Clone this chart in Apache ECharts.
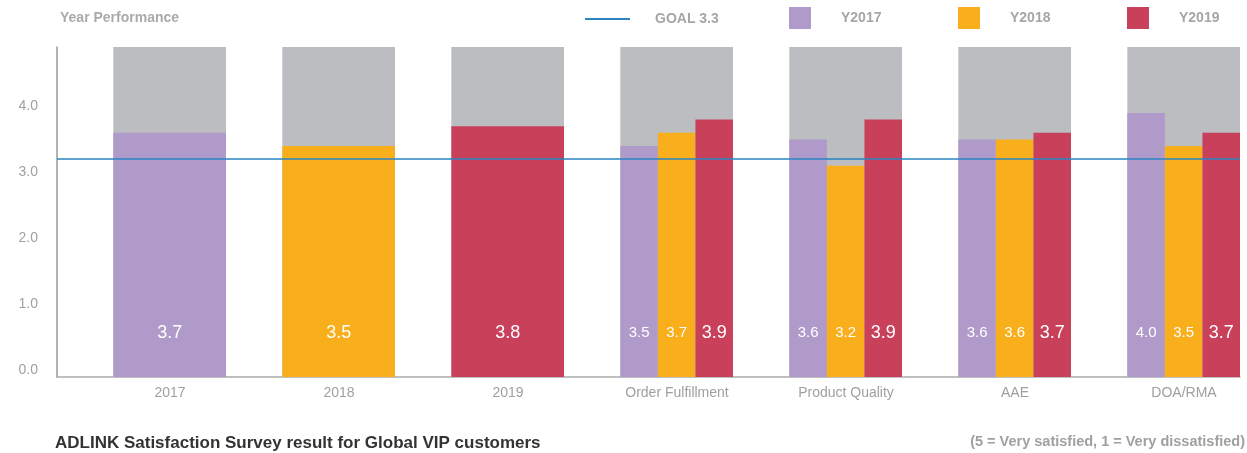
<!DOCTYPE html>
<html>
<head>
<meta charset="utf-8">
<script src="https://cdn.jsdelivr.net/npm/echarts@6/dist/echarts.min.js"></script>
<style>
  html, body { margin: 0; padding: 0; background: #fff; }
  #chart { width: 1247px; height: 453px; }
</style>
</head>
<body>
<div id="chart"></div>
<script>
// categories: three yearly totals, then the survey areas
var years = ['2017', '2018', '2019'];
var areas = ['Order Fulfillment', 'Product Quality', 'AAE', 'DOA/RMA'];
var categories = years.concat(areas);

// overall score per year
var yearScore = [3.7, 3.5, 3.8];
// score per area, one array per year
var y2017 = [3.5, 3.6, 3.6, 4.0];
var y2018 = [3.7, 3.2, 3.6, 3.5];
var y2019 = [3.9, 3.9, 3.7, 3.7];

var goal = 3.3;
var scaleMax = 5;

var seriesNames = ['Y2017', 'Y2018', 'Y2019'];
var colors = ['#b09ac9', '#f9ae1b', '#c8405a'];
var areaScores = [y2017, y2018, y2019];

var chart = echarts.init(document.getElementById('chart'));

// bar sits in the right two thirds of each band
function barBox(api, i) {
    var base = api.coord([i, 0]);
    var band = api.size([1, 0])[0];
    return { left: base[0] - band / 2 + band / 3, width: band * 2 / 3, bottom: base[1] };
}

function renderBackground(params, api) {
    var i = api.value(0);
    var b = barBox(api, i);
    var top = api.coord([i, api.value(1)]);
    return {
        type: 'rect',
        shape: { x: b.left, y: top[1], width: b.width, height: b.bottom - top[1] },
        style: { fill: '#bcbdc0' }
    };
}

function renderYear(slot) {
    return function (params, api) {
        var i = api.value(0);
        var v = api.value(1);
        if (isNaN(v)) return;
        var b = barBox(api, i);
        var left = b.left, w = b.width;
        var single = i < years.length;
        if (!single) {
            w = w / 3;
            left = left + slot * w;
        }
        var top = api.coord([i, v]);
        var big = single || slot == 2;
        return {
            type: 'group',
            children: [
                {
                    type: 'rect',
                    shape: { x: left, y: top[1], width: w, height: b.bottom - top[1] },
                    style: { fill: colors[slot] }
                },
                {
                    type: 'text',
                    x: left + w / 2,
                    y: b.bottom - 44,
                    style: {
                        text: v.toFixed(1),
                        fill: '#fff',
                        fontSize: big ? 18 : 15,
                        fontFamily: 'Liberation Sans, Arial, sans-serif',
                        align: 'center',
                        verticalAlign: 'middle'
                    }
                }
            ]
        };
    };
}

var series = [{
    name: 'bg',
    type: 'custom',
    silent: true,
    renderItem: renderBackground,
    data: categories.map(function (c, i) { return [i, scaleMax]; }),
    z: 1
}];

seriesNames.forEach(function (name, k) {
    var data = [[k, yearScore[k]]];
    areaScores[k].forEach(function (v, j) {
        data.push([years.length + j, v]);
    });
    series.push({
        name: name,
        type: 'custom',
        renderItem: renderYear(k),
        itemStyle: { color: colors[k] },
        data: data,
        z: 2
    });
});

series.push({
    name: 'GOAL 3.3',
    type: 'line',
    data: [],
    itemStyle: { color: '#2a84c2' },
    lineStyle: { color: '#2a84c2' },
    z: 10,
    markLine: {
        silent: true,
        symbol: 'none',
        label: { show: false },
        lineStyle: { color: '#2a84c2', width: 1.5, type: 'solid' },
        data: [{ yAxis: goal }]
    }
});

var legendText = {
    color: '#a6a6a6',
    fontSize: 14,
    fontWeight: 'bold',
    fontFamily: 'Liberation Sans, Arial, sans-serif'
};

function squareLegend(name, left) {
    return {
        data: [name],
        left: left,
        top: 2,
        icon: 'rect',
        itemWidth: 22,
        itemHeight: 22,
        selectedMode: false,
        textStyle: Object.assign({ padding: [0, 0, 0, 25] }, legendText)
    };
}

var option = {
    animation: false,
    title: [
        {
            text: 'Year Performance',
            left: 55,
            top: 6,
            textStyle: { color: '#aaaaaa', fontSize: 14, fontWeight: 'bold', fontFamily: 'Liberation Sans, Arial, sans-serif' }
        },
        {
            text: 'ADLINK Satisfaction Survey result for Global VIP customers',
            left: 55,
            top: 435,
            padding: 0,
            textStyle: { color: '#333333', fontSize: 17, fontWeight: 'bold', fontFamily: 'Liberation Sans, Arial, sans-serif' }
        },
        {
            text: '(5 = Very satisfied, 1 = Very dissatisfied)',
            right: 2,
            top: 434,
            padding: 0,
            textStyle: { color: '#a0a0a0', fontSize: 14.5, fontWeight: 'bold', fontFamily: 'Liberation Sans, Arial, sans-serif' }
        }
    ],
    legend: [
        {
            data: ['GOAL 3.3'],
            left: 580,
            top: 7,
            icon: 'rect',
            itemWidth: 45,
            itemHeight: 2,
            selectedMode: false,
            textStyle: Object.assign({ padding: [0, 0, 0, 20] }, legendText)
        },
        squareLegend('Y2017', 784),
        squareLegend('Y2018', 953),
        squareLegend('Y2019', 1122)
    ],
    grid: { left: 57, right: 7, top: 47, bottom: 76 },
    xAxis: {
        type: 'category',
        data: categories,
        axisLine: { lineStyle: { color: '#aaaaaa', width: 1.5 } },
        axisTick: { show: false },
        axisLabel: {
            color: '#a0a0a0',
            fontSize: 14,
            margin: 9,
            padding: [0, 0, 0, 57],
            fontFamily: 'Liberation Sans, Arial, sans-serif'
        }
    },
    yAxis: {
        type: 'value',
        min: 0,
        max: scaleMax,
        interval: 1,
        axisLine: { show: true, lineStyle: { color: '#9a9a9a', width: 1.5 } },
        axisTick: { show: false },
        splitLine: { show: false },
        axisLabel: {
            color: '#a0a0a0',
            fontSize: 14,
            margin: 19,
            verticalAlign: 'bottom',
            fontFamily: 'Liberation Sans, Arial, sans-serif',
            formatter: function (v) { return v == scaleMax ? '' : v.toFixed(1); }
        }
    },
    series: series
};

chart.setOption(option);
</script>
</body>
</html>
